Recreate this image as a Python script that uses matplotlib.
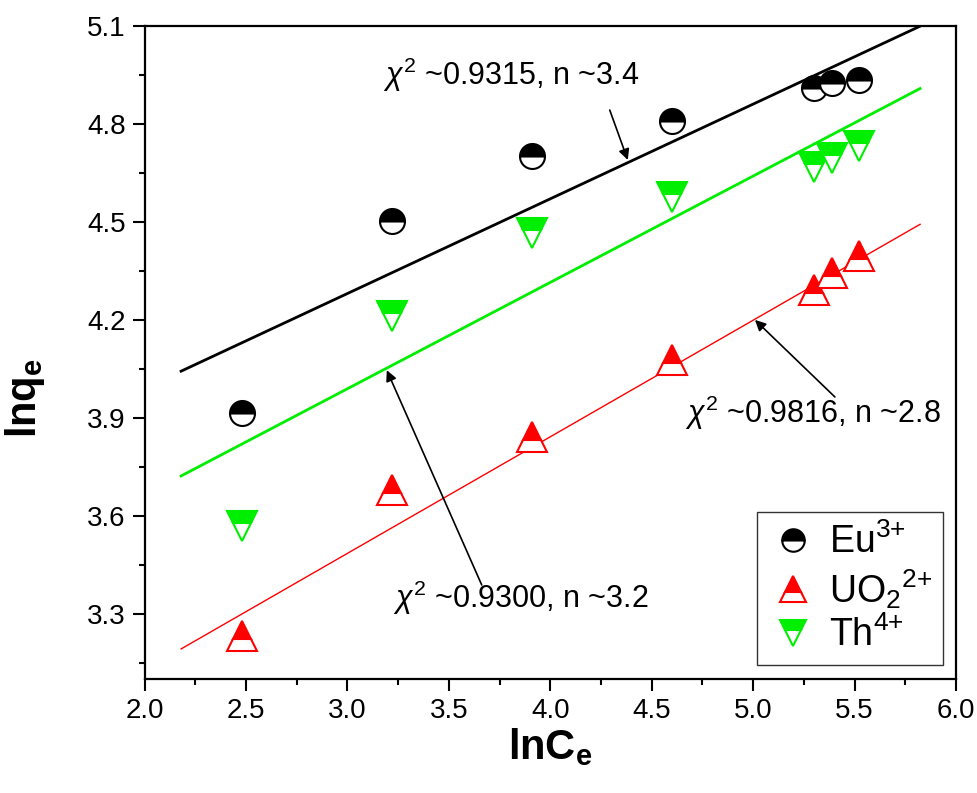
import matplotlib
matplotlib.use("Agg")
import matplotlib.pyplot as plt
from matplotlib.ticker import MultipleLocator

plt.rcParams["font.family"] = ["Liberation Sans", "DejaVu Sans"]
plt.rcParams["mathtext.fontset"] = "custom"
plt.rcParams["mathtext.rm"] = "Liberation Sans"
plt.rcParams["mathtext.it"] = "Liberation Sans:italic"
plt.rcParams["mathtext.bf"] = "Liberation Sans:bold"

# data
ln_ce = [2.48, 3.22, 3.91, 4.60, 5.30, 5.39, 5.52]
eu = [3.915, 4.503, 4.702, 4.809, 4.91, 4.925, 4.935]
uo2 = [3.232, 3.679, 3.841, 4.077, 4.291, 4.344, 4.396]
th = [3.569, 4.212, 4.466, 4.576, 4.669, 4.695, 4.732]

# fitted lines (end points)
fit_x = [2.18, 5.823]
eu_fit = [4.043, 5.10]
uo2_fit = [3.192, 4.493]
th_fit = [3.722, 4.909]

fig = plt.figure(figsize=(9.77, 7.93), dpi=100)
ax = fig.add_axes([0.148, 0.1438, 0.8305, 0.8232])

ax.plot(fit_x, eu_fit, color="black", lw=2.0)
ax.plot(fit_x, th_fit, color="#00ee00", lw=2.0)
ax.plot(fit_x, uo2_fit, color="red", lw=1.0)

ax.plot(ln_ce, eu, "o", ms=18, mfc="black", mfcalt="white", mec="black",
        mew=1.5, fillstyle="top", label="Eu$^{3{+}}$")
ax.plot(ln_ce, uo2, "^", ms=21, mfc="red", mfcalt="white", mec="red",
        mew=1.5, fillstyle="top", label="UO$_2$$^{2{+}}$")
ax.plot(ln_ce, th, "v", ms=21, mfc="#00ee00", mfcalt="white", mec="#00ee00",
        mew=1.5, fillstyle="top", label="Th$^{4{+}}$")

# annotations
ax.text(3.174, 4.919, r"$\chi^2$ ~0.9315, n ~3.4", fontsize=22)
ax.text(3.223, 3.317, r"$\chi^2$ ~0.9300, n ~3.2", fontsize=22)
ax.text(4.663, 3.884, r"$\chi^2$ ~0.9816, n ~2.8", fontsize=22)
arrow = dict(arrowstyle="-|>", color="black", lw=1.2, mutation_scale=16,
             shrinkA=0, shrinkB=0)
ax.annotate("", xy=(4.382, 4.690), xytext=(4.293, 4.843), arrowprops=arrow)
ax.annotate("", xy=(3.194, 4.046), xytext=(3.662, 3.388), arrowprops=arrow)
ax.annotate("", xy=(5.009, 4.200), xytext=(5.403, 3.964), arrowprops=arrow)

ax.set_xlim(2.0, 6.0)
ax.set_ylim(3.1, 5.1)
ax.xaxis.set_major_locator(MultipleLocator(0.5))
ax.xaxis.set_minor_locator(MultipleLocator(0.25))
ax.set_yticks([3.3, 3.6, 3.9, 4.2, 4.5, 4.8, 5.1])
ax.set_yticks([3.15, 3.45, 3.75, 4.05, 4.35, 4.65, 4.95], minor=True)
ax.tick_params(which="both", direction="out", width=1.5, labelsize=20,
               top=False, right=False)
ax.tick_params(which="major", length=8.5, pad=5)
ax.tick_params(which="minor", length=4.5)
for s in ax.spines.values():
    s.set_linewidth(1.6)

ax.set_xlabel("lnC$_\\mathbf{e}$", fontsize=30, fontweight="bold", labelpad=2)
ax.set_ylabel("lnq$_\\mathbf{e}$", fontsize=30, fontweight="bold")
ax.yaxis.set_label_coords(-0.12, 0.43)

leg = ax.legend(loc="lower right", bbox_to_anchor=(0.984, 0.021),
                fontsize=27, frameon=True, fancybox=False, borderaxespad=0,
                handletextpad=0.3, labelspacing=0.15, borderpad=0.3,
                handlelength=1.3, markerscale=0.9)
leg.get_frame().set_edgecolor("black")
leg.get_frame().set_linewidth(1.0)

fig.savefig("out.png", dpi=100)
